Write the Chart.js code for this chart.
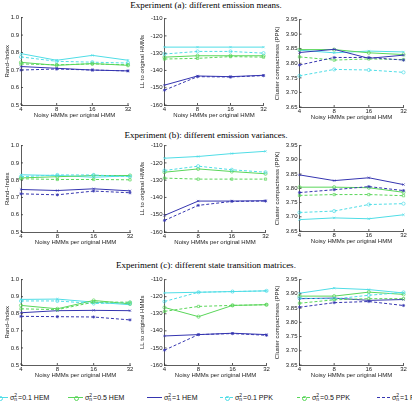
<!DOCTYPE html>
<html>
<head>
<meta charset="utf-8">
<script src="https://cdn.jsdelivr.net/npm/chart.js@4"></script>
<style>
body { margin: 0; width: 412px; height: 410px; background: #fff; position: relative; overflow: hidden; font-family: "Liberation Sans", Arial, sans-serif; }
.title { position: absolute; left: 0; width: 412px; text-align: center; font-family: "Liberation Serif", serif; font-size: 9px; color: #000; }
.panel { position: absolute; }
.leg { position: absolute; top: 391px; height: 12px; font-size: 7px; color: #111; white-space: nowrap; display: flex; align-items: center; }
.leg .ln { display: inline-block; position: relative; height: 0; margin-right: 2px; }
.leg .mk { position: absolute; top: -2px; width: 3px; height: 3px; border: 0.8px solid; border-radius: 50%; left: 50%; margin-left: -2px; }
.ss { display: inline-flex; flex-direction: column; font-size: 5px; line-height: 4px; vertical-align: middle; margin-right: 1px; }
</style>
</head>
<body>
<div class="title" style="top:0px">Experiment (a): different emission means.</div>
<div class="title" style="top:130px">Experiment (b): different emission variances.</div>
<div class="title" style="top:260px">Experiment (c): different state transition matrices.</div>

<script>
// x categories (log-spaced in the original, shown evenly)
const xLabels = ['4', '8', '16', '32'];

// series order: 0.1 HEM, 0.5 HEM, 1 HEM, 0.1 PPK, 0.5 PPK, 1 PPK
const seriesNames = ['0.1 HEM', '0.5 HEM', '1 HEM', '0.1 PPK', '0.5 PPK', '1 PPK'];

const randA = [
  [0.794, 0.756, 0.784, 0.756],
  [0.744, 0.727, 0.737, 0.727],
  [0.720, 0.710, 0.700, 0.695],
  [0.775, 0.750, 0.745, 0.740],
  [0.735, 0.730, 0.735, 0.730],
  [0.700, 0.706, 0.700, 0.695]
];
const llA = [
  [-126.5, -126.5, -126.5, -126.5],
  [-132.3, -131.5, -131.5, -131.5],
  [-148.5, -143.2, -143.6, -142.8],
  [-130.5, -129.0, -129.0, -130.0],
  [-133.4, -133.0, -132.0, -132.3],
  [-151.4, -143.6, -143.8, -143.0]
];
const ppkA = [
  [3.845, 3.836, 3.842, 3.839],
  [3.847, 3.847, 3.836, 3.830],
  [3.837, 3.848, 3.817, 3.828],
  [3.757, 3.779, 3.777, 3.769],
  [3.822, 3.811, 3.815, 3.813],
  [3.794, 3.820, 3.820, 3.811]
];

const randB = [
  [0.831, 0.827, 0.817, 0.825],
  [0.813, 0.820, 0.827, 0.827],
  [0.746, 0.740, 0.750, 0.738],
  [0.820, 0.830, 0.830, 0.820],
  [0.808, 0.804, 0.804, 0.802],
  [0.721, 0.715, 0.737, 0.727]
];
const llB = [
  [-117.3, -116.3, -114.6, -113.3],
  [-125.4, -123.5, -125.0, -126.3],
  [-150.4, -142.1, -142.1, -141.9],
  [-124.4, -121.9, -124.0, -125.4],
  [-128.8, -129.4, -129.4, -129.4],
  [-153.3, -144.6, -142.3, -142.1]
];
const ppkB = [
  [3.690, 3.696, 3.693, 3.707],
  [3.804, 3.804, 3.802, 3.786],
  [3.847, 3.827, 3.837, 3.813],
  [3.715, 3.720, 3.743, 3.746],
  [3.775, 3.778, 3.778, 3.774],
  [3.785, 3.795, 3.806, 3.792]
];

const randC = [
  [0.884, 0.886, 0.868, 0.853],
  [0.849, 0.829, 0.878, 0.858],
  [0.806, 0.818, 0.820, 0.818],
  [0.875, 0.875, 0.860, 0.865],
  [0.829, 0.824, 0.868, 0.868],
  [0.785, 0.783, 0.781, 0.764]
];
const llC = [
  [-117.8, -117.4, -117.0, -116.6],
  [-126.3, -131.7, -125.1, -124.7],
  [-143.0, -142.2, -141.4, -142.2],
  [-122.8, -117.4, -117.0, -116.6],
  [-128.6, -125.7, -125.1, -124.7],
  [-151.3, -142.2, -141.6, -142.6]
];
const ppkC = [
  [3.902, 3.920, 3.915, 3.903],
  [3.892, 3.892, 3.906, 3.898],
  [3.883, 3.885, 3.877, 3.880],
  [3.885, 3.882, 3.895, 3.905],
  [3.867, 3.879, 3.883, 3.883],
  [3.853, 3.869, 3.873, 3.859]
];

// y tick labels
const randTicks = [0.5, 0.6, 0.7, 0.8, 0.9, 1];
const llTicks = [-160, -150, -140, -130, -120, -110];
const ppkTicks = [3.65, 3.7, 3.75, 3.8, 3.85, 3.9, 3.95];

// styling per series
const colors = ['#4fdde6', '#5ad65a', '#3535b0', '#4fdde6', '#5ad65a', '#3535b0'];
const markers = ['crossRot', 'circle', 'crossRot', 'circle', 'rect', 'star'];

// inward tick marks, matlab style
const innerTicks = {
  id: 'innerTicks',
  afterDatasetsDraw(chart) {
    const ctx = chart.ctx;
    const x = chart.scales.x, y = chart.scales.y;
    ctx.save();
    ctx.strokeStyle = '#333';
    ctx.lineWidth = 0.8;
    ctx.beginPath();
    x.ticks.forEach((t, i) => {
      const px = x.getPixelForTick(i);
      ctx.moveTo(px, y.bottom);
      ctx.lineTo(px, y.bottom - 2);
    });
    y.ticks.forEach(t => {
      const py = y.getPixelForValue(t.value);
      ctx.moveTo(x.left, py);
      ctx.lineTo(x.left + 2, py);
    });
    ctx.stroke();
    ctx.restore();
  }
};

function makePanel(box, rows, ticks, yTitle) {
  const xh = 14, pt = 5, pr = 8;
  const div = document.createElement('div');
  div.className = 'panel';
  div.style.left = (box.l - box.yw) + 'px';
  div.style.top = (box.t - pt) + 'px';
  div.style.width = (box.r - box.l + box.yw + pr) + 'px';
  div.style.height = (box.b - box.t + pt + xh) + 'px';
  const canvas = document.createElement('canvas');
  div.appendChild(canvas);
  document.body.appendChild(div);

  new Chart(canvas, {
    type: 'line',
    data: {
      labels: xLabels,
      datasets: rows.map((d, i) => ({
        label: seriesNames[i],
        data: d,
        borderColor: colors[i],
        backgroundColor: colors[i],
        borderWidth: 1,
        borderDash: i >= 3 ? [3, 2] : [],
        pointStyle: markers[i],
        pointRadius: 1.6,
        pointBorderWidth: 0.7,
        pointBackgroundColor: 'rgba(0,0,0,0)',
        tension: 0
      })).reverse()
    },
    options: {
      responsive: true,
      maintainAspectRatio: false,
      animation: false,
      layout: { padding: { top: pt, right: pr, left: 0, bottom: 0 } },
      plugins: { legend: { display: false }, tooltip: { enabled: false } },
      scales: {
        x: {
          offset: false,
          grid: { display: true, drawOnChartArea: false, drawTicks: false },
          border: { color: '#333', width: 0.8 },
          ticks: { font: { size: 6 }, color: '#222', padding: 1, maxRotation: 0, autoSkip: false },
          title: { display: true, text: 'Noisy HMMs per original HMM', font: { size: 6 }, color: '#222', padding: { top: 0, bottom: 0 } },
          afterFit(s) { s.height = xh; }
        },
        y: {
          min: ticks[0],
          max: ticks[ticks.length - 1],
          afterBuildTicks(s) { s.ticks = ticks.map(v => ({ value: v })); },
          grid: { display: true, drawOnChartArea: false, drawTicks: false },
          border: { color: '#333', width: 0.8 },
          ticks: { font: { size: 6 }, color: '#222', padding: 2 },
          title: { display: true, text: yTitle, font: { size: 6 }, color: '#222', padding: { top: 0, bottom: 0 } },
          afterFit(s) { s.width = box.yw; }
        }
      }
    },
    plugins: [innerTicks]
  });
}

// panel boxes: plot-area edges on the page and y-axis band width
const boxes = [
  [{ l: 21, t: 17, r: 128, b: 105, yw: 17 }, { l: 164, t: 18, r: 263, b: 105, yw: 25.5 }, { l: 299, t: 19, r: 403, b: 107, yw: 25.5 }],
  [{ l: 21, t: 145, r: 130, b: 232, yw: 17 }, { l: 164, t: 145, r: 265, b: 232, yw: 25.5 }, { l: 299, t: 145, r: 403, b: 231, yw: 25.5 }],
  [{ l: 21, t: 279, r: 130, b: 365, yw: 17 }, { l: 164, t: 279, r: 266, b: 365, yw: 25.5 }, { l: 299, t: 279, r: 403, b: 365, yw: 25.5 }]
];

const randRows = [randA, randB, randC];
const llRows = [llA, llB, llC];
const ppkRows = [ppkA, ppkB, ppkC];

for (let r = 0; r < 3; r++) {
  makePanel(boxes[r][0], randRows[r], randTicks, 'Rand−Index');
  makePanel(boxes[r][1], llRows[r], llTicks, 'LL to original HMMs');
  makePanel(boxes[r][2], ppkRows[r], ppkTicks, 'Cluster compactness (PPK)');
}

// legend row along the bottom
const legX = [-9, 68, 147, 220, 297, 377];
const legW = [17, 15, 15, 13, 13, 13];
seriesNames.forEach((name, i) => {
  const el = document.createElement('div');
  el.className = 'leg';
  el.style.left = legX[i] + 'px';
  const dash = i >= 3 ? 'dashed' : 'solid';
  const mk = i === 2 || i === 5 ? '' : `<span class="mk" style="border-color:${colors[i]}"></span>`;
  el.innerHTML = `<span class="ln" style="width:${legW[i]}px;border-top:1px ${dash} ${colors[i]}">${mk}</span>` +
    `σ<span class="ss"><span>2</span><span>n</span></span>=${name}`;
  document.body.appendChild(el);
});
</script>
</body>
</html>
